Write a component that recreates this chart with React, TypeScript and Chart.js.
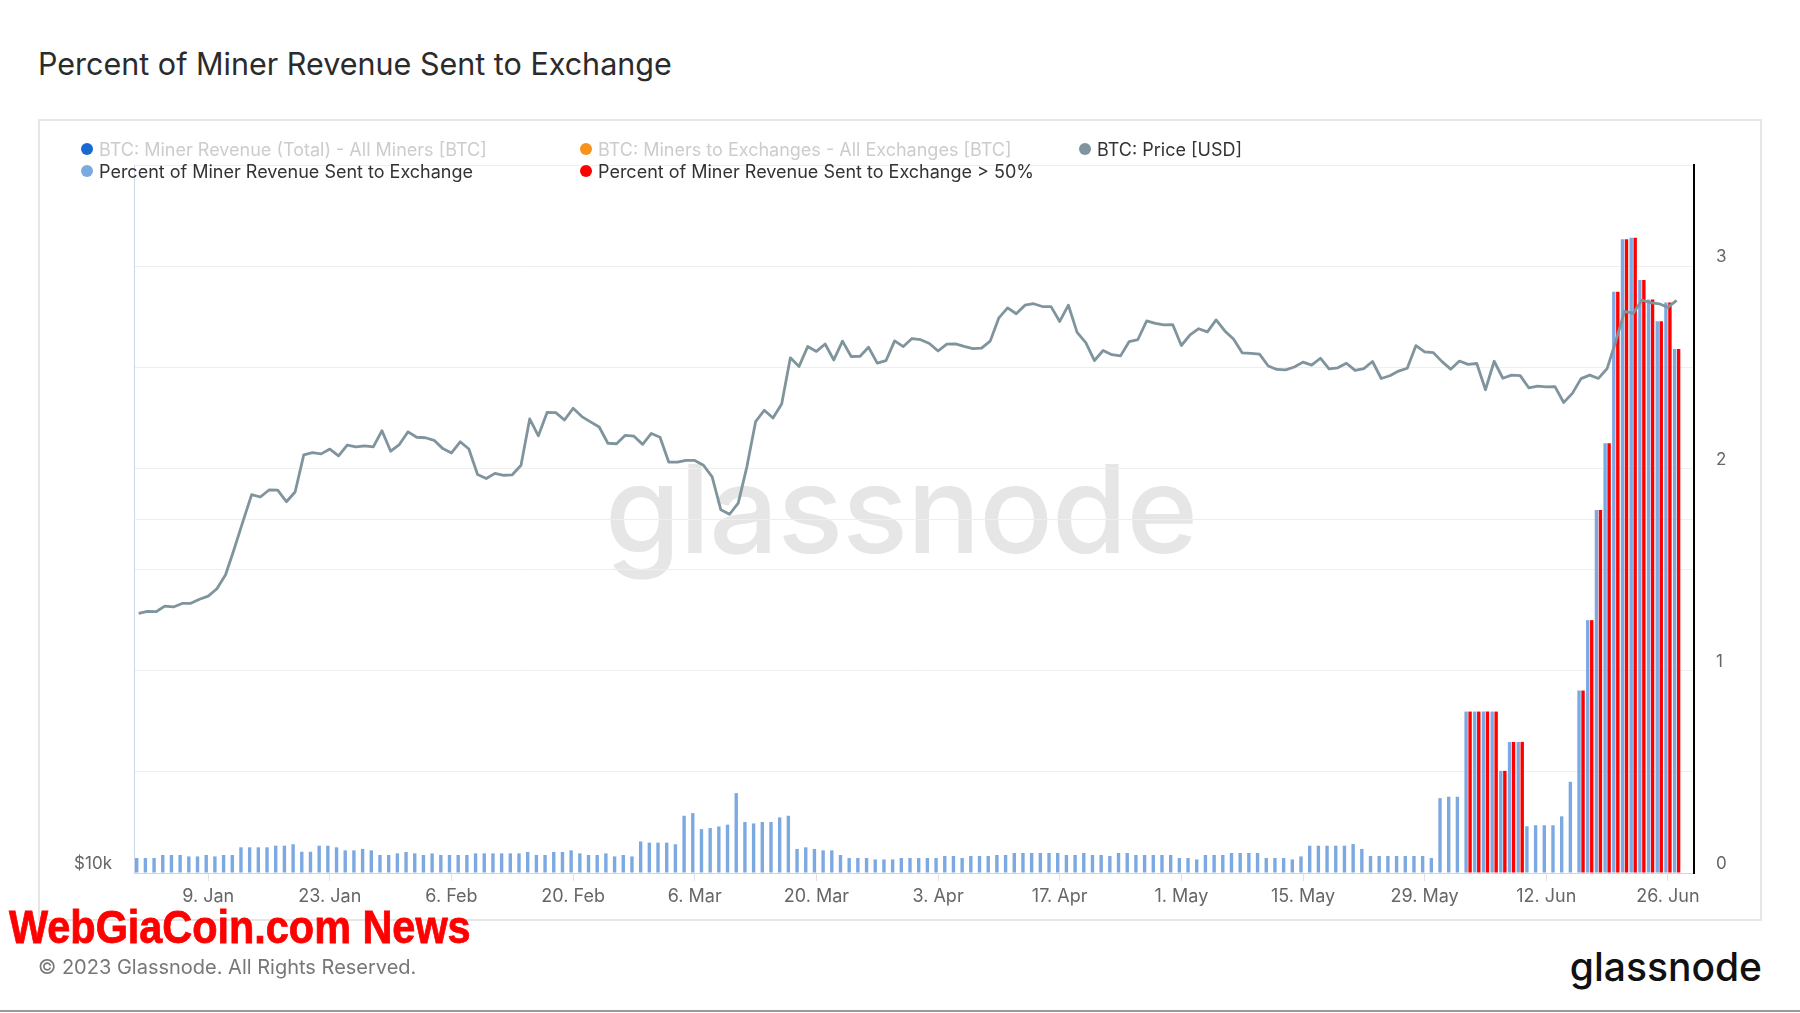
import React, { useEffect, useRef } from 'react';
import { Chart, registerables } from 'chart.js';

Chart.register(...registerables);

const START_DATE = '2023-01-01';

// BTC price [USD], daily, 1 Jan 2023 – 27 Jun 2023
const priceUsd = [
  // Jan
  16625, 16688, 16680, 16863, 16836, 16951, 16955, 17091, 17196, 17446, 17934, 18869, 19909, 20976, 20880, 21169,
  21161, 20688, 21086, 22676, 22777, 22720, 22934, 22636, 23117, 23032, 23078, 23031, 23774, 22840, 23139,
  // Feb
  23723, 23471, 23449, 23331, 22955, 22760, 23264, 22939, 21819, 21651, 21870, 21788, 21808, 22220, 24329, 23540,
  24640, 24631, 24278, 24839, 24440, 24188, 23947, 23198, 23175, 23561, 23522, 23147,
  // Mar
  23646, 23475, 22362, 22354, 22436, 22429, 22219, 21718, 20363, 20187, 20633, 22163, 24197, 24746, 24375, 25052,
  27423, 26965, 28038, 27767, 28175, 27307, 28333, 27493, 27494, 27994, 27139, 27268, 28348, 28033, 28478,
  // Apr
  28411, 28199, 27790, 28168, 28177, 28044, 27925, 27947, 28333, 29653, 30235, 29892, 30399, 30485, 30318, 30315,
  29445, 30397, 28822, 28245, 27277, 27817, 27591, 27525, 28307, 28422, 29473, 29340, 29249, 29268,
  // May
  28091, 28680, 29031, 28848, 29534, 28904, 28454, 27694, 27658, 27621, 26988, 26805, 26785, 26931, 27192, 27036,
  27399, 26833, 26890, 27130, 26753, 26851, 27225, 26334, 26476, 26720, 26868, 28085, 27745, 27702, 27219,
  // Jun
  26819, 27249, 27075, 27119, 25760, 27238, 26346, 26508, 26480, 25851, 25940, 25902, 25918, 25124, 25576, 26327,
  26510, 26336, 26851, 28327, 30027, 29912, 30695, 30548, 30480, 30271, 30689,
];

// Percent of miner revenue sent to exchange, daily
const pctSentToExchange = [
  0.074, 0.074, 0.074, 0.089, 0.089, 0.089, 0.082, 0.082, 0.089, 0.082,
  0.089, 0.089, 0.127, 0.127, 0.127, 0.127, 0.135, 0.135, 0.142, 0.105,
  0.105, 0.135, 0.135, 0.127, 0.112, 0.112, 0.119, 0.112, 0.089, 0.089,
  0.097, 0.104, 0.097, 0.089, 0.097, 0.089, 0.089, 0.089, 0.089, 0.097,
  0.097, 0.097, 0.097, 0.097, 0.097, 0.104, 0.089, 0.089, 0.104, 0.104,
  0.112, 0.097, 0.089, 0.089, 0.097, 0.082, 0.089, 0.082, 0.156, 0.150,
  0.150, 0.150, 0.142, 0.283, 0.296, 0.217, 0.222, 0.230, 0.239, 0.395,
  0.252, 0.245, 0.252, 0.252, 0.275, 0.283, 0.119, 0.127, 0.119, 0.112,
  0.112, 0.089, 0.074, 0.074, 0.074, 0.067, 0.067, 0.067,
  0.074, 0.074, 0.074, 0.074, 0.074, 0.084, 0.084, 0.074, 0.084, 0.084, 0.084, 0.089,
  0.089, 0.099, 0.099, 0.099, 0.099, 0.099, 0.099, 0.089, 0.089, 0.099,
  0.089, 0.089, 0.084, 0.099, 0.099, 0.089, 0.089, 0.089, 0.089, 0.089,
  0.074, 0.074, 0.067, 0.089, 0.089, 0.089, 0.099, 0.099, 0.099, 0.099,
  0.074, 0.074, 0.074, 0.067, 0.082, 0.135, 0.135, 0.135, 0.135, 0.135,
  0.143, 0.119, 0.084, 0.084, 0.084, 0.084, 0.084, 0.084, 0.084, 0.074,
  0.370, 0.377, 0.377, 0.798, 0.798, 0.798, 0.798, 0.505, 0.648, 0.648,
  0.231, 0.236, 0.236, 0.236, 0.280, 0.451, 0.902, 1.250, 1.795, 2.125,
  2.873, 3.133, 3.140, 2.932, 2.835, 2.727, 2.820, 2.590,
];

// Days flagged "> 50%"
const above50Dates = [
  '2023-06-03', '2023-06-04', '2023-06-05', '2023-06-06', '2023-06-07', '2023-06-08', '2023-06-09',
  '2023-06-16', '2023-06-17', '2023-06-18', '2023-06-19', '2023-06-20', '2023-06-21', '2023-06-22',
  '2023-06-23', '2023-06-24', '2023-06-25', '2023-06-26', '2023-06-27',
];

const xTickDates = [
  '2023-01-09', '2023-01-23', '2023-02-06', '2023-02-20', '2023-03-06', '2023-03-20', '2023-04-03',
  '2023-04-17', '2023-05-01', '2023-05-15', '2023-05-29', '2023-06-12', '2023-06-26',
];
const xTickLabels = [
  '9. Jan', '23. Jan', '6. Feb', '20. Feb', '6. Mar', '20. Mar', '3. Apr',
  '17. Apr', '1. May', '15. May', '29. May', '12. Jun', '26. Jun',
];

const priceTickValues = [10000, 20000, 40000];
const priceTickLabels = ['$10k', '', ''];
const pctTickLabels = ['0', '1', '2', '3'];

const legendRow1 = [
  { label: 'BTC: Miner Revenue (Total) - All Miners [BTC]', color: '#1a68d1', hidden: true },
  { label: 'BTC: Miners to Exchanges - All Exchanges [BTC]', color: '#f7931a', hidden: true },
  { label: 'BTC: Price [USD]', color: '#7f949c', hidden: false },
];
const legendRow2 = [
  { label: 'Percent of Miner Revenue Sent to Exchange', color: '#7ca9e2', hidden: false },
  { label: 'Percent of Miner Revenue Sent to Exchange > 50%', color: '#ff0000', hidden: false },
];

const FONT = 'Inter, "Noto Sans", sans-serif';
const LEGEND_COLS = [87, 586, 1085];

export default function App() {
  const canvasRef = useRef<HTMLCanvasElement>(null);

  useEffect(() => {
    const dayIndex = (d: string) => Math.round((Date.parse(d) - Date.parse(START_DATE)) / 86400000);
    const redSet = new Set(above50Dates.map(dayIndex));
    const tickIdx = xTickDates.map(dayIndex);

    const priceData = priceUsd.map((y, i) => ({ x: i, y }));
    const pctData = pctSentToExchange.map((y, i) => ({ x: i, y }));
    const redData = pctSentToExchange.map((y, i) => ({ x: i, y: redSet.has(i) ? y : null }));

    Chart.defaults.font.family = FONT;

    const chart = new Chart(canvasRef.current as HTMLCanvasElement, {
      type: 'bar',
      data: {
        datasets: [
          {
            type: 'line',
            label: 'BTC: Price [USD]',
            data: priceData,
            yAxisID: 'yPrice',
            borderColor: '#7f949c',
            borderWidth: 2.8,
            pointRadius: 0,
            tension: 0,
            borderJoinStyle: 'round',
            order: 0,
          } as any,
          {
            type: 'bar',
            label: 'Percent of Miner Revenue Sent to Exchange',
            data: pctData,
            yAxisID: 'yPct',
            backgroundColor: '#7ca9e2',
            categoryPercentage: 0.92,
            barPercentage: 0.85,
            order: 1,
          } as any,
          {
            type: 'bar',
            label: 'Percent of Miner Revenue Sent to Exchange > 50%',
            data: redData,
            yAxisID: 'yPct',
            backgroundColor: '#ff0000',
            categoryPercentage: 0.92,
            barPercentage: 0.85,
            order: 2,
          } as any,
        ],
      },
      options: {
        responsive: false,
        maintainAspectRatio: false,
        animation: false,
        layout: { padding: { top: 46, left: 0, right: 0, bottom: 0 } },
        plugins: {
          legend: { display: false },
          tooltip: { enabled: false },
        },
        scales: {
          x: {
            type: 'linear',
            min: -0.54,
            max: 179.0,
            bounds: 'data',
            offset: false,
            afterBuildTicks: (axis: any) => {
              axis.ticks = tickIdx.map((v) => ({ value: v }));
            },
            afterFit: (axis: any) => {
              axis.height = 48;
            },
            ticks: {
              autoSkip: false,
              maxRotation: 0,
              padding: 5,
              color: '#666666',
              font: { size: 18 },
              callback: (v: any) => {
                const k = tickIdx.indexOf(Number(v));
                return k >= 0 ? xTickLabels[k] : '';
              },
            },
            grid: {
              offset: false,
              drawOnChartArea: false,
              drawTicks: true,
              tickLength: 8,
              color: '#e2e2e2',
              tickColor: '#e2e2e2',
            },
            border: { display: true, color: '#ccd6eb', width: 1 },
          } as any,
          yPrice: {
            type: 'logarithmic',
            position: 'left',
            min: 10000,
            max: 40000,
            bounds: 'data',
            afterBuildTicks: (axis: any) => {
              axis.ticks = priceTickValues.map((v) => ({ value: v }));
            },
            afterFit: (axis: any) => {
              axis.width = 96;
            },
            ticks: {
              padding: 22,
              labelOffset: -9,
              color: '#666666',
              font: { size: 17 },
              callback: (v: any) => {
                const k = priceTickValues.indexOf(Number(v));
                return k >= 0 ? priceTickLabels[k] : '';
              },
            },
            grid: { color: '#eeeeee', drawTicks: false },
            border: { display: true, color: '#ccd6eb', width: 1 },
          } as any,
          yPct: {
            type: 'linear',
            position: 'right',
            min: 0,
            max: 3.5,
            bounds: 'data',
            afterFit: (axis: any) => {
              axis.width = 68;
            },
            ticks: {
              stepSize: 0.5,
              padding: 22,
              labelOffset: -9,
              color: '#666666',
              font: { size: 17 },
              callback: (v: any) => {
                const k = pctTickLabels.indexOf(String(v));
                return k >= 0 ? pctTickLabels[k] : '';
              },
            },
            grid: { color: '#eeeeee', drawTicks: false },
            border: { display: true, color: '#000000', width: 2 },
          } as any,
        },
      },
    });
    return () => chart.destroy();
  }, []);

  const legendItem = (it: { label: string; color: string; hidden: boolean }, x: number, y: number) => (
    <div
      key={it.label}
      style={{
        position: 'absolute',
        left: x - 6,
        top: y - 11,
        height: 22,
        display: 'flex',
        alignItems: 'center',
        whiteSpace: 'nowrap',
        font: `400 18px ${FONT}`,
        color: it.hidden ? '#cccccc' : '#333333',
      }}
    >
      <span
        style={{
          display: 'inline-block',
          width: 12,
          height: 12,
          borderRadius: '50%',
          background: it.color,
          marginRight: 6,
        }}
      />
      <span>{it.label}</span>
    </div>
  );

  return (
    <div
      style={{
        position: 'absolute',
        left: 0,
        top: 0,
        width: 1800,
        height: 1013,
        overflow: 'hidden',
        background: '#ffffff',
        fontFamily: FONT,
      }}
    >
      <div
        style={{
          position: 'absolute',
          left: 38,
          top: 49,
          font: `400 30.5px ${FONT}`,
          lineHeight: '30.5px',
          color: '#2b2b2b',
          whiteSpace: 'nowrap',
        }}
      >
        Percent of Miner Revenue Sent to Exchange
      </div>

      <div
        style={{
          position: 'absolute',
          left: 38,
          top: 119,
          width: 1724,
          height: 802,
          border: '2px solid #e6e6e6',
          boxSizing: 'border-box',
        }}
      />

      <div
        style={{
          position: 'absolute',
          left: 580,
          top: 448,
          width: 642,
          textAlign: 'center',
          font: `500 122px ${FONT}`,
          lineHeight: '122px',
          color: '#e6e6e6',
          whiteSpace: 'nowrap',
          letterSpacing: '-1px',
        }}
      >
        glassnode
      </div>

      <canvas
        ref={canvasRef}
        width={1724}
        height={802}
        style={{ position: 'absolute', left: 38, top: 119, width: 1724, height: 802 }}
      />

      {legendRow1.map((it, i) => legendItem(it, LEGEND_COLS[i], 149))}
      {legendRow2.map((it, i) => legendItem(it, LEGEND_COLS[i], 171))}

      <div
        style={{
          position: 'absolute',
          left: 9,
          top: 904,
          font: `700 46px "Liberation Sans", sans-serif`,
          lineHeight: '46px',
          color: '#ff0000',
          whiteSpace: 'nowrap',
          transform: 'scaleX(0.9)',
          transformOrigin: 'left center',
          WebkitTextStroke: '0.8px #ff0000',
        }}
      >
        WebGiaCoin.com News
      </div>

      <div
        style={{
          position: 'absolute',
          left: 38,
          top: 957,
          font: `400 20px ${FONT}`,
          lineHeight: '20px',
          color: '#777777',
          whiteSpace: 'nowrap',
        }}
      >
        © 2023 Glassnode. All Rights Reserved.
      </div>

      <div
        style={{
          position: 'absolute',
          right: 38,
          top: 947,
          font: `500 39px ${FONT}`,
          lineHeight: '39px',
          color: '#111111',
          whiteSpace: 'nowrap',
        }}
      >
        glassnode
      </div>

      <div
        style={{
          position: 'absolute',
          left: 0,
          top: 1010,
          width: 1800,
          height: 2,
          background: '#9a9a9a',
        }}
      />
    </div>
  );
}
